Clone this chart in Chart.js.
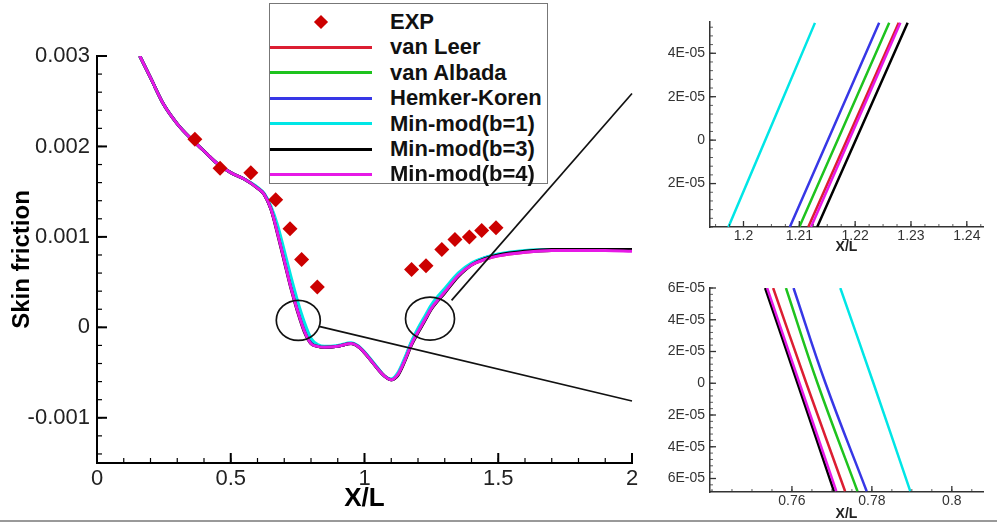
<!DOCTYPE html>
<html>
<head>
<meta charset="utf-8">
<script src="https://cdn.jsdelivr.net/npm/chart.js@4/dist/chart.umd.min.js"></script>
<style>
  body { margin: 0; background: #fff; }
  #wrap { position: relative; width: 997px; height: 525px; overflow: hidden; background: #fff; }
  canvas { position: absolute; }
  #legend { position: absolute; left: 269px; top: 3px; width: 277px; height: 179px; border: 1px solid #777; background: #fff;
            font-family: "Liberation Sans", Arial, sans-serif; }
  .row { position: absolute; left: 0; width: 100%; height: 26px; }
  .sample { position: absolute; left: 0; top: 11.5px; width: 102px; height: 3px; }
  .diamond { position: absolute; left: 46px; top: 8px; width: 10px; height: 10px; transform: rotate(45deg); }
  .label { position: absolute; left: 120px; top: 0; line-height: 26px; font-size: 22px; font-weight: bold; color: #111; white-space: nowrap; }
  #baseline { position: absolute; left: 0; top: 520px; width: 997px; height: 2px; background: #999; }
</style>
</head>
<body>
<div id="wrap">
  <canvas id="main" width="650" height="525" style="left:0;top:0"></canvas>
  <canvas id="inset1" width="357" height="260" style="left:640px;top:0"></canvas>
  <canvas id="inset2" width="357" height="255" style="left:640px;top:270px"></canvas>
  <div id="legend"></div>
  <div id="baseline"></div>
</div>
<script>
// ---- data ----
const seriesNames = ['van Leer', 'van Albada', 'Hemker-Koren', 'Min-mod(b=1)', 'Min-mod(b=3)', 'Min-mod(b=4)'];
const seriesColors = ['#dc1e32', '#1ec31e', '#3737e6', '#00e6e6', '#000000', '#e619e6'];

const expX = [0.366, 0.46, 0.575, 0.668, 0.7215, 0.765, 0.8236, 1.176, 1.23, 1.289, 1.338, 1.392, 1.438, 1.4916];
const expY = [0.00208, 0.00176, 0.00171, 0.00141, 0.00109, 0.00075, 0.000445, 0.00064, 0.00068, 0.00086, 0.00097, 0.001, 0.00107, 0.0011];

const mainX = [0.16, 0.2, 0.25, 0.3, 0.35, 0.4, 0.45, 0.5, 0.55, 0.6, 0.625, 0.65, 0.675, 0.7, 0.725, 0.75, 0.775, 0.8, 0.825, 0.85,
  0.9, 0.95, 0.975, 1.0, 1.05, 1.075, 1.1, 1.125, 1.15, 1.175, 1.2, 1.225, 1.25, 1.3, 1.35, 1.4, 1.45, 1.5, 1.6, 1.7, 1.8, 1.9, 2.0];

const vanLeer = [0.003, 0.00276, 0.00246, 0.00225, 0.00209, 0.00195, 0.00181, 0.00171, 0.00164, 0.00154, 0.00147, 0.00131, 0.00105, 0.00075,
  0.00045, 0.00019, -0.00003, -0.00017, -0.00021, -0.00022, -0.00021, -0.00018, -0.00021, -0.00028, -0.00046, -0.00054, -0.00058, -0.00052,
  -0.00037, -0.00019, -0.00005, 0.00008, 0.00021, 0.00039, 0.00057, 0.00069, 0.00075, 0.00079, 0.00083, 0.00085, 0.00085, 0.00085, 0.00085];
const vanAlbada = [0.003, 0.00276, 0.00246, 0.00225, 0.00209, 0.00195, 0.00181, 0.00171, 0.00164, 0.00154, 0.00147, 0.00131, 0.00106, 0.00077,
  0.00047, 0.00021, -0.00001, -0.00016, -0.00021, -0.00022, -0.00021, -0.00018, -0.00021, -0.00028, -0.00046, -0.00054, -0.00058, -0.00052,
  -0.00036, -0.00018, -0.00004, 0.00009, 0.00022, 0.0004, 0.00058, 0.0007, 0.00076, 0.0008, 0.00084, 0.00085, 0.00085, 0.00085, 0.00085];
const hemkerKoren = [0.003, 0.00276, 0.00246, 0.00225, 0.00209, 0.00195, 0.00181, 0.00171, 0.00164, 0.00154, 0.00147, 0.00131, 0.00107, 0.00078,
  0.00049, 0.00023, 0.00001, -0.00015, -0.0002, -0.00022, -0.00021, -0.00018, -0.00021, -0.00028, -0.00046, -0.00054, -0.00058, -0.00052,
  -0.00036, -0.00017, -0.00003, 0.0001, 0.00023, 0.00041, 0.00058, 0.0007, 0.00077, 0.0008, 0.00084, 0.00085, 0.00085, 0.00085, 0.00085];
const minmod1 = [0.003, 0.00276, 0.00246, 0.00225, 0.00209, 0.00195, 0.00181, 0.00171, 0.00164, 0.00155, 0.00148, 0.00134, 0.00113, 0.00085,
  0.00056, 0.00029, 0.00006, -0.00012, -0.00019, -0.00021, -0.0002, -0.00017, -0.0002, -0.00027, -0.00045, -0.00054, -0.00057, -0.0005,
  -0.00034, -0.00016, -0.00001, 0.00012, 0.00025, 0.00043, 0.0006, 0.00071, 0.00077, 0.00081, 0.00085, 0.00086, 0.00086, 0.00086, 0.00086];
const minmod3 = [0.003, 0.00276, 0.00246, 0.00225, 0.00209, 0.00195, 0.00181, 0.00171, 0.00164, 0.00154, 0.00147, 0.00131, 0.00103, 0.00073,
  0.00043, 0.00017, -0.00005, -0.00018, -0.00021, -0.00022, -0.00021, -0.00018, -0.00021, -0.00028, -0.00046, -0.00054, -0.00058, -0.00053,
  -0.00038, -0.0002, -0.00006, 0.00007, 0.0002, 0.00038, 0.00056, 0.00069, 0.00076, 0.0008, 0.00084, 0.00086, 0.00086, 0.00086, 0.00086];
const minmod4 = [0.003, 0.00276, 0.00246, 0.00225, 0.00209, 0.00195, 0.00181, 0.00171, 0.00164, 0.00154, 0.00147, 0.00131, 0.00104, 0.00074,
  0.00044, 0.00018, -0.00004, -0.00018, -0.00021, -0.00022, -0.00021, -0.00018, -0.00021, -0.00028, -0.00046, -0.00054, -0.00058, -0.00052,
  -0.00037, -0.00019, -0.00005, 0.00008, 0.00021, 0.00039, 0.00057, 0.00069, 0.00075, 0.00079, 0.00083, 0.00085, 0.00085, 0.00085, 0.00084];

// zoom near x/L = 1.2 (x positions at the bottom and top of the box)
const inset1Y = [-4e-5, 5.4e-5];
const inset1VanLeer = [1.2116, 1.2278];
const inset1VanAlbada = [1.21, 1.2261];
const inset1Hemker = [1.2083, 1.2243];
const inset1Minmod1 = [1.1973, 1.2128];
const inset1Minmod3 = [1.2132, 1.2294];
const inset1Minmod4 = [1.2121, 1.2281];

// zoom near x/L = 0.77 (top, zero, bottom)
const inset2Y = [6e-5, 0, -6.8e-5];
const inset2VanLeer = [0.7553, 0.7636, 0.7733];
const inset2VanAlbada = [0.7585, 0.7664, 0.7764];
const inset2Hemker = [0.7604, 0.7684, 0.7787];
const inset2Minmod1 = [0.7721, 0.7804, 0.7896];
const inset2Minmod3 = [0.7533, 0.7614, 0.7705];
const inset2Minmod4 = [0.7538, 0.7619, 0.7711];

const mainXTicks = [0, 0.5, 1, 1.5, 2];
const mainXLabels = ['0', '0.5', '1', '1.5', '2'];
const mainYTicks = [-0.001, 0, 0.001, 0.002, 0.003];
const mainYLabels = ['-0.001', '0', '0.001', '0.002', '0.003'];
const inset1XTicks = [1.2, 1.21, 1.22, 1.23, 1.24];
const inset1XLabels = ['1.2', '1.21', '1.22', '1.23', '1.24'];
const inset1YTicks = [-2e-5, 0, 2e-5, 4e-5];
const inset1YLabels = ['2E-05', '0', '2E-05', '4E-05'];
const inset2XTicks = [0.76, 0.78, 0.8];
const inset2XLabels = ['0.76', '0.78', '0.8'];
const inset2YTicks = [-6e-5, -4e-5, -2e-5, 0, 2e-5, 4e-5, 6e-5];
const inset2YLabels = ['6E-05', '4E-05', '2E-05', '0', '2E-05', '4E-05', '6E-05'];

Chart.defaults.font.family = '"Liberation Sans", Arial, sans-serif';
Chart.defaults.animation = false;

// inward major/minor tick marks, placed through the scales
const tickMarks = {
  id: 'tickMarks',
  afterDraw(chart, args, o) {
    const { ctx, chartArea: a } = chart;
    const xs = chart.scales.x, ys = chart.scales.y;
    ctx.save();
    ctx.strokeStyle = o.color;
    const seg = (x1, y1, x2, y2, w) => {
      ctx.lineWidth = w;
      ctx.beginPath(); ctx.moveTo(x1, y1); ctx.lineTo(x2, y2); ctx.stroke();
    };
    const minors = (scale, step) => {
      const out = [];
      for (let i = Math.ceil(scale.min / step - 1e-6); i <= Math.floor(scale.max / step + 1e-6); i++) out.push(i * step);
      return out;
    };
    minors(xs, o.xMinor).forEach(v => { const p = xs.getPixelForValue(v); seg(p, a.bottom, p, a.bottom - o.minorLen, o.minorWidth); });
    minors(ys, o.yMinor).forEach(v => { const p = ys.getPixelForValue(v); seg(a.left, p, a.left + o.minorLen, p, o.minorWidth); });
    o.xMajor.forEach(v => { const p = xs.getPixelForValue(v); seg(p, a.bottom, p, a.bottom - o.majorLen, o.majorWidth); });
    o.yMajor.forEach(v => { const p = ys.getPixelForValue(v); seg(a.left, p, a.left + o.majorLen, p, o.majorWidth); });
    ctx.restore();
  }
};

// circles marking the zoomed regions and their leader lines
const zoomCircles = [{ x: 0.7525, y: 0.000077, rx: 22, ry: 20 }, { x: 1.2449, y: 0.000096, rx: 24.5, ry: 21.5 }];
const zoomLeaders = [[0.8299, 0.000011, 2.0, -0.000814], [1.3255, 0.000298, 2.0, 0.002586]];
const zoomMarks = {
  id: 'zoomMarks',
  afterDatasetsDraw(chart) {
    const { ctx } = chart;
    const xs = chart.scales.x, ys = chart.scales.y;
    ctx.save();
    ctx.strokeStyle = '#111';
    ctx.lineWidth = 1.7;
    zoomCircles.forEach(c => {
      ctx.beginPath();
      ctx.ellipse(xs.getPixelForValue(c.x), ys.getPixelForValue(c.y), c.rx, c.ry, 0, 0, 2 * Math.PI);
      ctx.stroke();
    });
    zoomLeaders.forEach(l => {
      ctx.beginPath();
      ctx.moveTo(xs.getPixelForValue(l[0]), ys.getPixelForValue(l[1]));
      ctx.lineTo(xs.getPixelForValue(l[2]), ys.getPixelForValue(l[3]));
      ctx.stroke();
    });
    ctx.restore();
  }
};

const fixedTicks = values => scale => { scale.ticks = values.map(v => ({ value: v })); };
const pts = (xs, ys) => xs.map((x, i) => ({ x: x, y: ys[i] }));

// draw order: magenta on top of the other curves, EXP on top of all
const drawOrder = [6, 5, 4, 3, 2, 1];

function curveSets(xArrays, yArrays, width, smooth) {
  return seriesNames.map((name, i) => ({
    label: name,
    data: pts(xArrays[i], yArrays[i]),
    showLine: true,
    borderColor: seriesColors[i],
    backgroundColor: seriesColors[i],
    borderWidth: width,
    pointRadius: 0,
    cubicInterpolationMode: smooth,
    tension: 0.4,
    order: drawOrder[i]
  }));
}

const mainCurves = [vanLeer, vanAlbada, hemkerKoren, minmod1, minmod3, minmod4];

new Chart(document.getElementById('main'), {
  type: 'scatter',
  data: {
    datasets: [{
      label: 'EXP',
      data: pts(expX, expY),
      pointStyle: 'rectRot',
      pointRadius: 7.5,
      borderWidth: 0,
      backgroundColor: '#cc0000',
      borderColor: '#cc0000',
      order: 0
    }].concat(curveSets(mainCurves.map(() => mainX), mainCurves, 3, 'monotone'))
  },
  options: {
    responsive: false,
    layout: { padding: { top: 56, right: 18, bottom: 0, left: 0 } },
    plugins: {
      legend: { display: false },
      tooltip: { enabled: false },
      tickMarks: { color: '#000', xMajor: mainXTicks, yMajor: mainYTicks, xMinor: 0.1, yMinor: 0.0002,
                   majorLen: 10, minorLen: 5, majorWidth: 2, minorWidth: 1.2 }
    },
    scales: {
      x: {
        type: 'linear', min: 0, max: 2,
        afterBuildTicks: fixedTicks(mainXTicks),
        afterFit: s => { s.height = 62; },
        grid: { display: false, drawTicks: false },
        border: { display: true, color: '#000', width: 2 },
        ticks: { autoSkip: false, maxRotation: 0, padding: 3, color: '#222', font: { size: 22 }, callback: (v, i) => mainXLabels[i] },
        title: { display: true, text: 'X/L', color: '#000', font: { size: 26, weight: 'bold' }, padding: { top: 0, bottom: 11 } }
      },
      y: {
        type: 'linear', min: -0.0015, max: 0.003,
        afterBuildTicks: fixedTicks(mainYTicks),
        afterFit: s => { s.width = 97; },
        grid: { display: false, drawTicks: false },
        border: { display: true, color: '#000', width: 2 },
        ticks: { autoSkip: false, padding: 7, color: '#222', font: { size: 22 }, callback: (v, i) => mainYLabels[i] },
        title: { display: true, text: 'Skin friction', color: '#000', font: { size: 24, weight: 'bold' }, padding: { top: 8, bottom: 0 } }
      }
    }
  },
  plugins: [tickMarks, zoomMarks]
});

function insetChart(id, cfg) {
  return new Chart(document.getElementById(id), {
    type: 'scatter',
    data: { datasets: curveSets(cfg.xArrays, cfg.xArrays.map(() => cfg.yVals), 2.5, 'default') },
    options: {
      responsive: false,
      layout: { padding: { top: cfg.padTop, right: 14, bottom: 0, left: 0 } },
      plugins: {
        legend: { display: false },
        tooltip: { enabled: false },
        tickMarks: { color: '#333', xMajor: cfg.xTicks, yMajor: cfg.yTicks, xMinor: cfg.xMinor, yMinor: cfg.yMinor,
                     majorLen: 6, minorLen: 3, majorWidth: 1.3, minorWidth: 0.8 }
      },
      scales: {
        x: {
          type: 'linear', min: cfg.xMin, max: cfg.xMax,
          afterBuildTicks: fixedTicks(cfg.xTicks),
          afterFit: s => { s.height = 33; },
          grid: { display: false, drawTicks: false },
          border: { display: true, color: '#333', width: 1.5 },
          ticks: { autoSkip: false, maxRotation: 0, padding: 1, color: '#333', font: { size: 14 }, callback: (v, i) => cfg.xLabels[i] },
          title: { display: true, text: 'X/L', color: '#222', font: { size: 14, weight: 'bold' }, padding: { top: 0, bottom: cfg.titlePad } }
        },
        y: {
          type: 'linear', min: cfg.yMin, max: cfg.yMax,
          afterBuildTicks: fixedTicks(cfg.yTicks),
          afterFit: s => { s.width = 70; },
          grid: { display: false, drawTicks: false },
          border: { display: true, color: '#333', width: 1.5 },
          ticks: { autoSkip: false, padding: 5, color: '#333', font: { size: 14 }, callback: (v, i) => cfg.yLabels[i] }
        }
      }
    },
    plugins: [tickMarks]
  });
}

insetChart('inset1', {
  xArrays: [inset1VanLeer, inset1VanAlbada, inset1Hemker, inset1Minmod1, inset1Minmod3, inset1Minmod4],
  yVals: inset1Y,
  xMin: 1.194, xMax: 1.2429, yMin: -4e-5, yMax: 5.44e-5,
  xTicks: inset1XTicks, xLabels: inset1XLabels, yTicks: inset1YTicks, yLabels: inset1YLabels,
  xMinor: 0.0025, yMinor: 4e-6, padTop: 22, titlePad: 4
});

insetChart('inset2', {
  xArrays: [inset2VanLeer, inset2VanAlbada, inset2Hemker, inset2Minmod1, inset2Minmod3, inset2Minmod4],
  yVals: inset2Y,
  xMin: 0.7395, xMax: 0.8078, yMin: -6.85e-5, yMax: 6e-5,
  xTicks: inset2XTicks, xLabels: inset2XLabels, yTicks: inset2YTicks, yLabels: inset2YLabels,
  xMinor: 0.005, yMinor: 4e-6, padTop: 18, titlePad: 2
});

// legend box drawn inside the plot, like the original
const legend = document.getElementById('legend');
const items = [{ name: 'EXP', color: '#cc0000', marker: true }]
  .concat(seriesNames.map((n, i) => ({ name: n, color: seriesColors[i] })));
items.forEach((it, i) => {
  const row = document.createElement('div');
  row.className = 'row';
  row.style.top = (5 + i * 25.4) + 'px';
  const mark = document.createElement('div');
  mark.className = it.marker ? 'diamond' : 'sample';
  mark.style.background = it.color;
  const label = document.createElement('div');
  label.className = 'label';
  label.textContent = it.name;
  row.appendChild(mark);
  row.appendChild(label);
  legend.appendChild(row);
});
</script>
</body>
</html>
